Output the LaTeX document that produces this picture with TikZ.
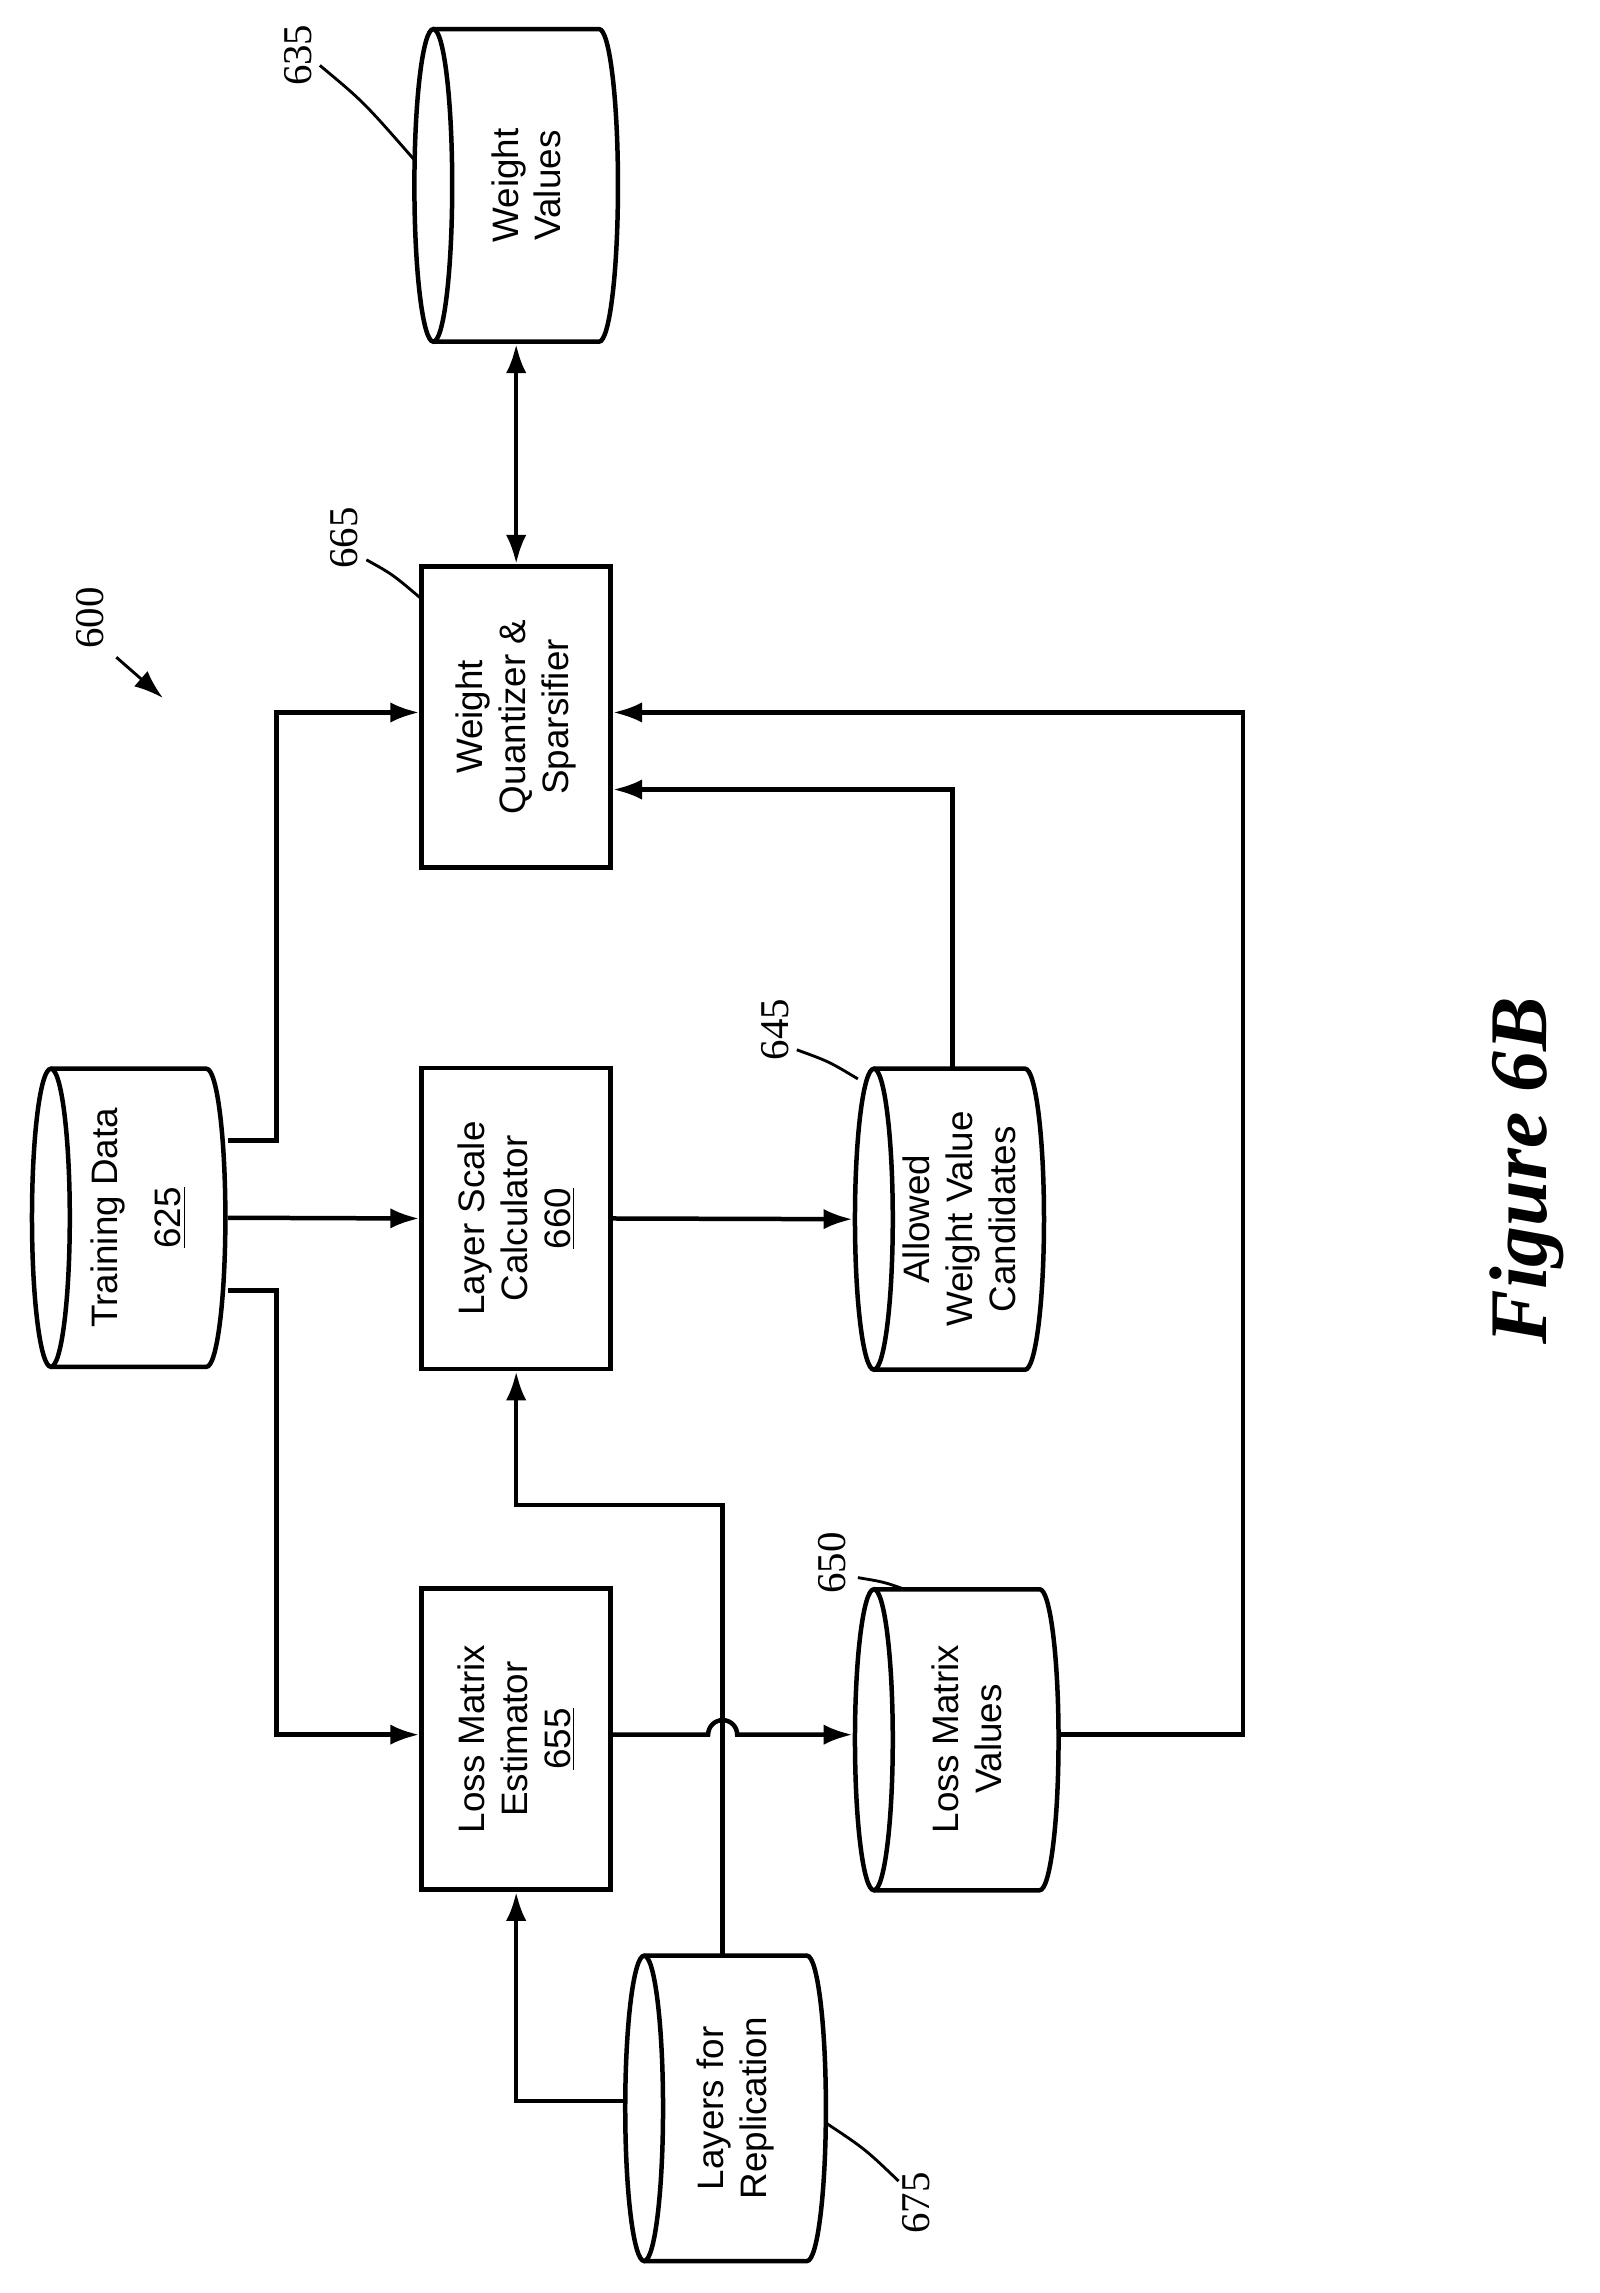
\documentclass[tikz,border=0pt]{standalone}
\usepackage{fontspec}
\setmainfont{Liberation Sans}
\newfontfamily\serif{Liberation Serif}
\usetikzlibrary{arrows.meta,calc}
\begin{document}
\begin{tikzpicture}[x=0.025cm,y=-0.025cm,line width=2.2pt,
  txt/.style={rotate=90,align=center,font=\fontsize{18}{21}\selectfont},
  lab/.style={rotate=90,font=\serif\fontsize{20}{24}\selectfont},
  box/.style={draw,minimum width=3.25cm,minimum height=5.175cm},
  arr/.style={-{Latex[length=5mm,width=3.5mm]}},
  lead/.style={line width=1.4pt}]
\useasboundingbox (0,0) rectangle (1100,1577);
\newcommand\cyldraw[4]{% x1 y1 x2 y2
  \pgfmathsetmacro\yc{(#2+#4)/2}\pgfmathsetmacro\ry{(#4-#2)/2}
  \draw (#1+13,\yc) ellipse[x radius=13,y radius=\ry];
  \draw (#1+13,#2) -- (#3-13,#2) arc[start angle=270,end angle=450,x radius=13,y radius=\ry] -- (#1+13,#4);}
% boxes
\node[box] (wqs) at (355,493) {};
\node[txt] at (wqs) {Weight\\Quantizer \&\\Sparsifier};
\node[box] (lsc) at (355,838) {};
\node[txt] at (lsc) {Layer Scale\\Calculator\\\underline{660}};
\node[box] (lme) at (355,1196) {};
\node[txt] at (lme) {Loss Matrix\\Estimator\\\underline{655}};
% cylinders
\cyldraw{22}{735}{155}{940}
\node[minimum width=3.325cm,minimum height=5.125cm] (td) at (88.5,837.5) {};
\node[txt] at (95,837.5) {Training Data\\[10pt]\underline{625}};
\cyldraw{588}{735}{718}{942}
\node[minimum width=3.25cm,minimum height=5.175cm] (awv) at (653,838.5) {};
\node[txt] at (660,838.5) {Allowed\\Weight Value\\Candidates};
\cyldraw{588}{1093}{728}{1300}
\node[minimum width=3.5cm,minimum height=5.175cm] (lmv) at (658,1196) {};
\node[txt] at (665,1196) {Loss Matrix\\Values};
\cyldraw{430}{1345}{568}{1555}
\node[minimum width=3.45cm,minimum height=5.25cm] (lfr) at (499,1450) {};
\node[txt] at (506,1450) {Layers for\\Replication};
\cyldraw{285}{20}{425}{235}
\node[minimum width=3.5cm,minimum height=5.375cm] (wv) at (355,127.5) {};
\node[txt] at (362,127.5) {Weight\\Values};
% connectors
\draw[arr] ($(td.east)+(0,-53)$) -| (190,490) -- (wqs.west |- 0,490);
\draw[arr] (td.east) -- (lsc.west);
\draw[arr] ($(td.east)+(0,50)$) -| (190,1193) -- (lme.west |- 0,1193);
\draw[arr] (lsc.east) -- (awv.west);
\draw[arr] (655,735) -- (655,543) -- (wqs.east |- 0,543);
\draw[arr] (lmv.east |- 0,1193) -| (855,490) -- (wqs.east |- 0,490);
\draw[arr] (lme.east |- 0,1193) -- (487,1193) arc[start angle=180,end angle=360,radius=10] -- (lmv.west |- 0,1193);
\draw[arr] (497,1345) -- (497,1035) -| (lsc.south);
\draw[arr] (430,1445) -| (lme.south);
\draw[{Latex[length=5mm,width=3.5mm]}-{Latex[length=5mm,width=3.5mm]}] (wqs.north) -- (wv.south);
% labels
\node[lab] (n600) at (62,425) {600};
\coordinate (a600) at (112,480);
\draw[arr,lead] (80,452) -- (a600);
\node[lab] at (205,38) {635};
\coordinate (c635) at (285,110);
\draw[lead] (220,45) .. controls (250,70) .. (c635);
\node[lab] at (237,370) {665};
\coordinate (c665) at (290,412);
\draw[lead] (252,385) .. controls (270,395) .. (c665);
\node[lab] at (533,708) {645};
\coordinate (c645) at (590,742);
\draw[lead] (548,722) .. controls (570,730) .. (c645);
\node[lab] at (572,1075) {650};
\coordinate (c650) at (622,1093);
\draw[lead] (590,1085) .. controls (608,1088) .. (c650);
\node[lab] at (630,1515) {675};
\coordinate (c675) at (568,1460);
\draw[lead] (618,1500) .. controls (595,1478) .. (c675);
\node[rotate=90,font=\serif\bfseries\itshape\fontsize{40}{46}\selectfont] at (1050,805) {Figure 6B};
\end{tikzpicture}
\end{document}
